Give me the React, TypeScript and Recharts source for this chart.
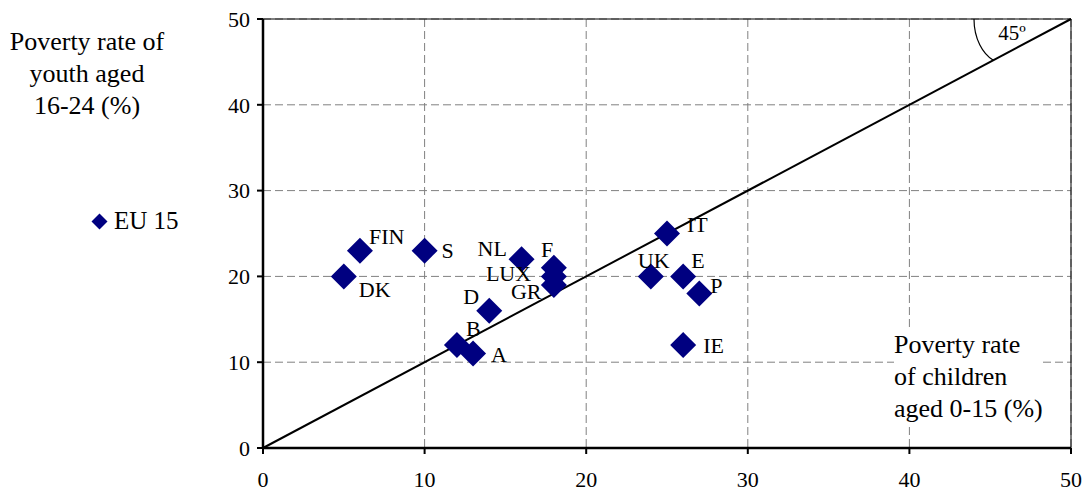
import React from "react";
import {
  ScatterChart,
  Scatter,
  XAxis,
  YAxis,
  CartesianGrid,
  ReferenceLine,
  ReferenceDot,
} from "recharts";

const countries = ["DK", "FIN", "S", "B", "A", "D", "NL", "F", "LUX", "GR", "IT", "UK", "E", "P", "IE"];
const childRate = [5, 6, 10, 12, 13, 14, 16, 18, 18, 18, 25, 24, 26, 27, 26];
const youthRate = [20, 23, 23, 12, 11, 16, 22, 21, 20, 19, 25, 20, 20, 18, 12];
const axisTicks = [0, 10, 20, 30, 40, 50];

// label offsets relative to the marker centre (text starts here)
const labelPos: Record<string, [number, number]> = {
  DK: [15, 13],
  FIN: [9, -14],
  S: [17, 0],
  B: [9, -17],
  A: [18, 1],
  D: [-26, -14],
  NL: [-44, -11],
  F: [-13, -18],
  LUX: [-68, -3],
  GR: [-43, 7],
  IT: [20, -9],
  UK: [-13, -16],
  E: [8, -16],
  P: [11, -8],
  IE: [20, 0],
};

const data = countries.map((name, i) => ({ name, x: childRate[i], y: youthRate[i] }));

const FONT = "'Liberation Serif', 'Times New Roman', serif";
const NAVY = "#000080";

function Diamond(props: any) {
  const { cx, cy, payload } = props;
  const r = 13;
  const [dx, dy] = labelPos[payload.name] || [14, 0];
  return (
    <g>
      <path d={`M${cx},${cy - r}L${cx + r},${cy}L${cx},${cy + r}L${cx - r},${cy}Z`} fill={NAVY} />
      <text
        x={cx + dx}
        y={cy + dy}
        dominantBaseline="central"
        fontFamily={FONT}
        fontSize={22}
        fill="#000"
      >
        {payload.name}
      </text>
    </g>
  );
}

function AngleMark(props: any) {
  const { cx, cy } = props;
  return (
    <g>
      <path
        d={`M${cx - 97},${cy} C${cx - 97},${cy + 20} ${cx - 88},${cy + 35} ${cx - 78},${cy + 41}`}
        fill="none"
        stroke="#000"
        strokeWidth={1.2}
      />
      <text x={cx - 59} y={cy + 14} textAnchor="middle" dominantBaseline="central" fontFamily={FONT} fontSize={21}>
        45º
      </text>
    </g>
  );
}

const tickStyle = { fill: "#000", fontSize: 22, fontFamily: FONT };

export default function App() {
  return (
    <div style={{ position: "absolute", left: 0, top: 0, width: 1089, height: 498, background: "#fff", fontFamily: FONT }}>
      <div
        style={{
          position: "absolute",
          left: 0,
          top: 26,
          width: 174,
          textAlign: "center",
          fontSize: 26,
          lineHeight: "32px",
        }}
      >
        Poverty rate of
        <br />
        youth aged
        <br />
        16-24 (%)
      </div>
      <div style={{ position: "absolute", left: 91, top: 207, display: "flex", alignItems: "center", fontSize: 25 }}>
        <svg width={17} height={17} style={{ marginRight: 6 }}>
          <path d="M8.5,0.5L16.5,8.5L8.5,16.5L0.5,8.5Z" fill={NAVY} />
        </svg>
        EU 15
      </div>
      <div
        style={{
          position: "absolute",
          left: 894,
          top: 329,
          fontSize: 26,
          lineHeight: "32px",
          background: "#fff",
          zIndex: 2,
        }}
      >
        Poverty rate
        <br />
        of children
        <br />
        aged 0-15 (%)
      </div>
      <ScatterChart width={1089} height={498} margin={{ top: 19, right: 18, bottom: 0, left: 0 }}>
        <CartesianGrid stroke="#808080" strokeDasharray="8 4" />
        <XAxis
          type="number"
          dataKey="x"
          domain={[0, 50]}
          ticks={axisTicks}
          interval={0}
          height={50}
          axisLine={{ stroke: "#000", strokeWidth: 2.5 }}
          tickLine={{ stroke: "#000", strokeWidth: 2 }}
          tickSize={6}
          tickMargin={17}
          tick={tickStyle}
        />
        <YAxis
          type="number"
          dataKey="y"
          domain={[0, 50]}
          ticks={axisTicks}
          interval={0}
          width={263}
          axisLine={{ stroke: "#000", strokeWidth: 2.5 }}
          tickLine={{ stroke: "#000", strokeWidth: 2 }}
          tickSize={6}
          tickMargin={7}
          tick={tickStyle}
        />
        <ReferenceLine y={50} stroke="#000" strokeWidth={1} />
        <ReferenceLine x={50} stroke="#000" strokeWidth={1} />
        <ReferenceLine
          segment={[
            { x: 0, y: 0 },
            { x: 50, y: 50 },
          ]}
          stroke="#000"
          strokeWidth={2}
        />
        <ReferenceDot x={50} y={50} r={0} shape={(p: any) => <AngleMark {...p} />} />
        <Scatter data={data} shape={(p: any) => <Diamond {...p} />} isAnimationActive={false} />
      </ScatterChart>
    </div>
  );
}
